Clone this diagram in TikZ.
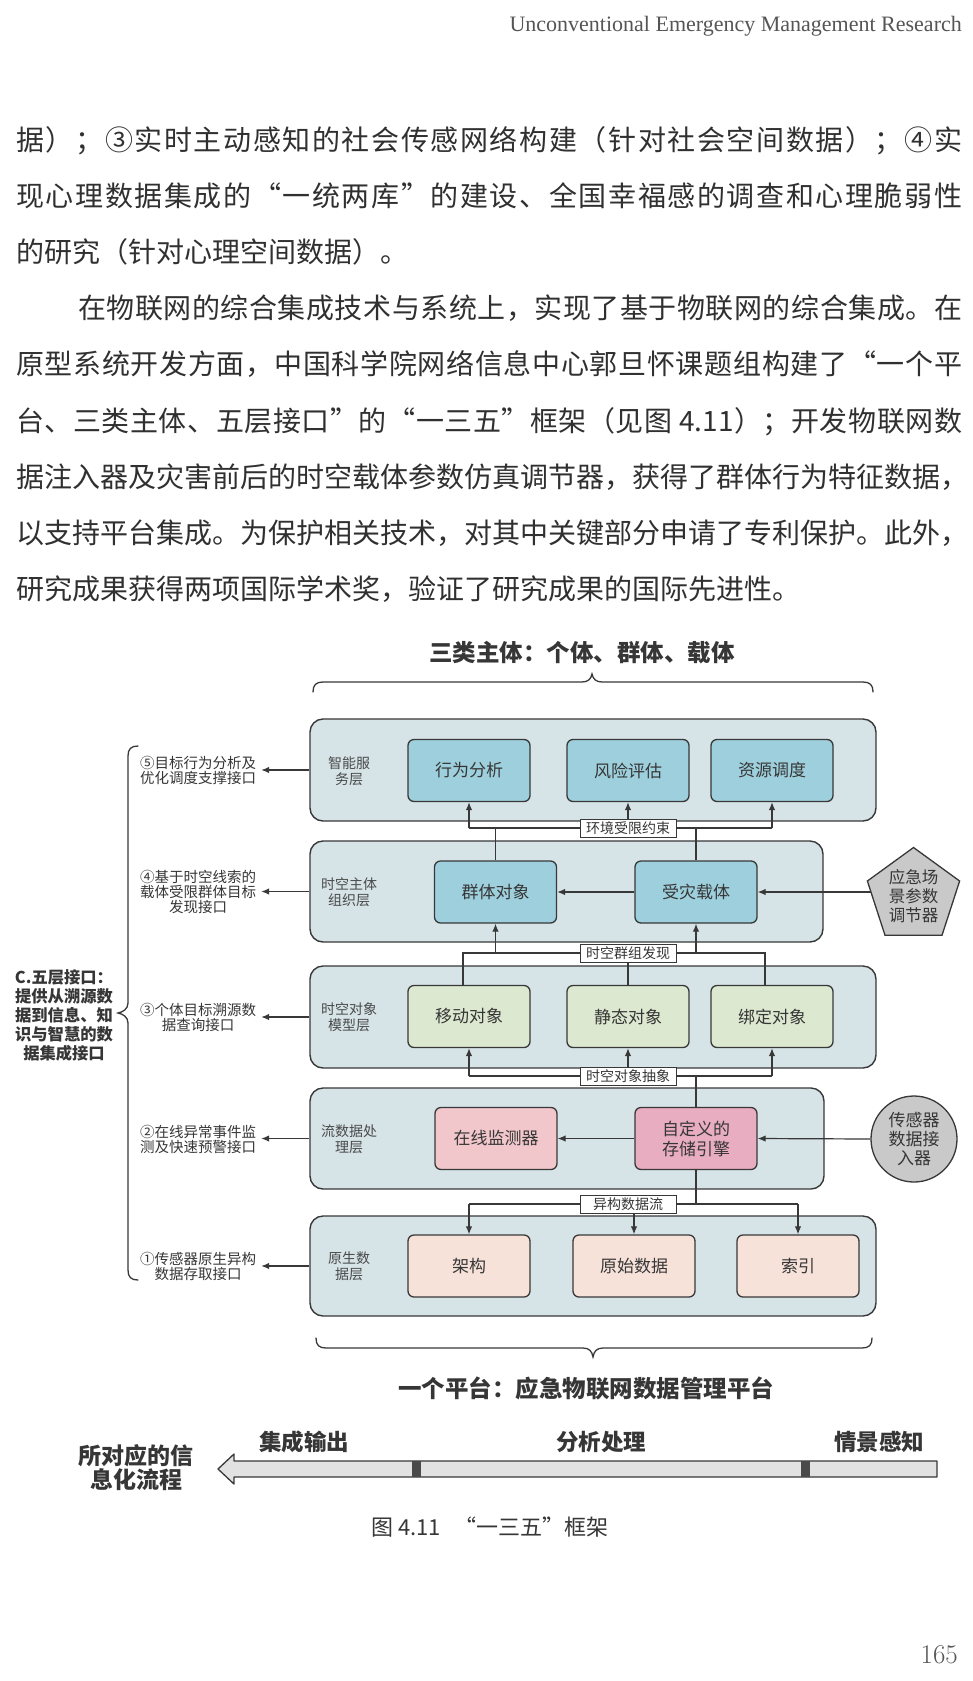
\documentclass[tikz,border=0pt]{standalone}
\usepackage{fontspec}
\newfontfamily\cjk{Noto Sans CJK SC}
\newfontfamily\tnr{Liberation Serif}
\usetikzlibrary{arrows.meta,shapes.geometric}
\pgfdeclarelayer{back}
\pgfdeclarelayer{mid}
\pgfsetlayers{back,mid,main}
\definecolor{layerfill}{HTML}{D6E3E7}
\definecolor{bluebox}{HTML}{9ECFDD}
\definecolor{greenbox}{HTML}{DCE9D0}
\definecolor{pinkA}{HTML}{F1C7CC}
\definecolor{pinkB}{HTML}{E9ADC1}
\definecolor{peach}{HTML}{F7E2DA}
\definecolor{greyshape}{HTML}{C9C9C9}
\definecolor{ln}{HTML}{383838}
\definecolor{txt}{HTML}{363636}
\definecolor{txtb}{HTML}{4A4A4A}
\definecolor{bodytxt}{HTML}{303030}
\definecolor{hdr}{HTML}{555555}
\definecolor{flowfill}{HTML}{E2E2E2}
\definecolor{sepfill}{HTML}{4A4A4A}
\makeatletter
\def\myspread#1{\myspreadaux#1\relax}
\def\myspreadaux#1{\ifx\relax#1\else #1\hskip 0pt plus 1fil\relax\expandafter\myspreadaux\fi}
\makeatother
\newcommand\jline[2]{\hbox to #1{\myspread{#2}\unskip}}
\begin{document}
\begin{tikzpicture}[x=1pt,y=-1pt,
  body/.style={anchor=base west, inner sep=0pt, font=\cjk\fontsize{28}{28}\selectfont, text=bodytxt},
  layerbox/.style={draw=ln, line width=1.4pt, fill=layerfill, rounded corners=13pt, inner sep=0pt},
  box/.style={draw=ln, line width=1.3pt, rounded corners=6pt, minimum width=122pt, minimum height=62pt, inner sep=0pt, font=\cjk\fontsize{17}{20}\selectfont, text=txt, align=center},
  tagbox/.style={draw=ln, line width=1pt, fill=white, minimum width=96pt, minimum height=18pt, inner sep=0pt, font=\cjk\fontsize{14}{14}\selectfont, text=txt},
  lyrlabel/.style={font=\cjk\fontsize{14}{16}\selectfont, text=txtb, align=center, inner sep=0pt},
  iface/.style={font=\cjk\fontsize{14.5}{15}\selectfont, text=txt, align=center, text width=118pt, inner xsep=4pt, inner ysep=1pt},
  arr/.style={draw=ln, line width=1.2pt, -{Latex[length=8pt,width=6.5pt]}},
  lnk/.style={draw=ln, line width=1.2pt},
  brace/.style={draw=ln, line width=1.3pt, line cap=round},
  bigtitle/.style={font=\cjk\fontsize{23.5}{26}\selectfont, text=txt, inner sep=0pt},
  flowlbl/.style={font=\cjk\fontsize{22.5}{24}\selectfont, text=txt, inner sep=0pt, align=center}
]
\useasboundingbox (0,0) rectangle (973,1681);
\begin{pgfonlayer}{back}
\fill[white] (0,0) rectangle (973,1681);
\end{pgfonlayer}

% header
\node[anchor=base east, inner sep=0pt, font=\tnr\fontsize{22}{22}\selectfont, text=hdr] (hd) at (962,31) {Unconventional Emergency Management Research};

% body text
\node[body] (b1) at (16,150.5) {\jline{946pt}{据）；③实时主动感知的社会传感网络构建（针对社会空间数据）；④实}};
\node[body] (b2) at (16,206.5) {\jline{946pt}{现心理数据集成的“一统两库”的建设、全国幸福感的调查和心理脆弱性}};
\node[body] (b3) at (16,262.5) {的研究（针对心理空间数据）。};
\node[body] (b4) at (78,318.5) {\jline{884pt}{在物联网的综合集成技术与系统上，实现了基于物联网的综合集成。在}};
\node[body] (b5) at (16,374.5) {\jline{946pt}{原型系统开发方面，中国科学院网络信息中心郭旦怀课题组构建了“一个平}};
\node[body] (b6) at (16,431) {\jline{946pt}{台、三类主体、五层接口”的“一三五”框架（见图{\ 4.11}）；开发物联网数}};
\node[body] (b7) at (16,487) {\jline{946pt}{据注入器及灾害前后的时空载体参数仿真调节器，获得了群体行为特征数据，}};
\node[body] (b8) at (16,543) {\jline{946pt}{以支持平台集成。为保护相关技术，对其中关键部分申请了专利保护。此外，}};
\node[body] (b9) at (16,599) {研究成果获得两项国际学术奖，验证了研究成果的国际先进性。};

% titles and braces
\node[bigtitle] (top) at (582,653) {\bfseries 三类主体：个体、群体、载体};
\draw[brace] (313,692) .. controls (313,685) and (316,682) .. (323,682) -- (582,682) .. controls (588,682) and (591,679) .. (592,674) .. controls (593,679) and (596,682) .. (602,682) -- (863,682) .. controls (870,682) and (873,685) .. (873,692);
\draw[brace] (316,1338) .. controls (316,1345) and (319,1348) .. (326,1348) -- (583,1348) .. controls (589,1348) and (592,1351) .. (593,1357) .. controls (594,1351) and (597,1348) .. (603,1348) -- (862,1348) .. controls (869,1348) and (872,1345) .. (872,1338);
\node[bigtitle] (bot) at (586,1388) {\bfseries 一个平台：应急物联网数据管理平台};
\draw[brace] (138,746) .. controls (131,746) and (128,749) .. (128,756) -- (128,1003) .. controls (128,1009) and (123,1012) .. (118,1013) .. controls (123,1014) and (128,1017) .. (128,1023) -- (128,1270) .. controls (128,1277) and (131,1280) .. (138,1280);
\node[font=\cjk\fontsize{16.3}{19}\selectfont\bfseries, text=txt, align=center, inner sep=0pt] (five) at (64,1015.5) {C.五层接口：\\提供从溯源数\\据到信息、知\\识与智慧的数\\据集成接口};

% layers
\begin{pgfonlayer}{back}
\node[layerbox, minimum width=566pt, minimum height=102pt] (L5) at (593,770) {};
\node[layerbox, minimum width=513pt, minimum height=101pt] (L4) at (566.5,891.5) {};
\node[layerbox, minimum width=566pt, minimum height=102pt] (L3) at (593,1017) {};
\node[layerbox, minimum width=514pt, minimum height=101pt] (L2) at (567,1138.5) {};
\node[layerbox, minimum width=566pt, minimum height=100pt] (L1) at (593,1266) {};
\end{pgfonlayer}

\node[lyrlabel] (n5) at (349,771) {智能服\\务层};
\node[lyrlabel] (n4) at (349,892) {时空主体\\组织层};
\node[lyrlabel] (n3) at (349,1017) {时空对象\\模型层};
\node[lyrlabel] (n2) at (349,1139) {流数据处\\理层};
\node[lyrlabel] (n1) at (349,1266) {原生数\\据层};

% boxes
\node[box, fill=bluebox] (xw) at (469,770.5) {行为分析};
\node[box, fill=bluebox] (fx) at (628,770.5) {风险评估};
\node[box, fill=bluebox] (zy) at (772,770.5) {资源调度};
\node[box, fill=bluebox] (qt) at (495.5,892) {群体对象};
\node[box, fill=bluebox] (sz) at (696,892) {受灾载体};
\node[box, fill=greenbox] (yd) at (469,1016.5) {移动对象};
\node[box, fill=greenbox] (jt) at (628,1016.5) {静态对象};
\node[box, fill=greenbox] (bd) at (772,1016.5) {绑定对象};
\node[box, fill=pinkA] (zx) at (496,1138.5) {在线监测器};
\node[box, fill=pinkB] (zdy) at (696,1138.5) {自定义的\\存储引擎};
\node[box, fill=peach] (jg) at (469,1266) {架构};
\node[box, fill=peach] (ys) at (634,1266) {原始数据};
\node[box, fill=peach] (sy) at (798,1266) {索引};

\node[regular polygon, regular polygon sides=5, minimum size=97pt, draw=ln, line width=1.3pt, fill=greyshape, inner sep=0pt, font=\cjk\fontsize{16.5}{19}\selectfont, text=txt, align=center] (pent) at (913.5,896) {应急场\\景参数\\调节器};
\node[circle, minimum size=86pt, draw=ln, line width=1.3pt, fill=greyshape, inner sep=0pt, font=\cjk\fontsize{17}{19}\selectfont, text=txt, align=center] (sensor) at (914,1139) {传感器\\数据接\\入器};

% tags
\node[tagbox] (t1) at (628,828) {环境受限约束};
\node[tagbox] (t2) at (628,953) {时空群组发现};
\node[tagbox] (t3) at (628,1076) {时空对象抽象};
\node[tagbox] (t4) at (628,1204) {异构数据流};

% interface labels
\node[iface] (i5) at (198,770.5) {⑤目标行为分析及\\优化调度支撑接口};
\node[iface] (i4) at (198,892) {④基于时空线索的\\载体受限群体目标\\发现接口};
\node[iface] (i3) at (198,1017.5) {③个体目标溯源数\\据查询接口};
\node[iface] (i2) at (198,1139.5) {②在线异常事件监\\测及快速预警接口};
\node[iface] (i1) at (198,1266) {①传感器原生异构\\数据存取接口};

\coordinate (ydn) at ([xshift=-6pt]yd.north);
\coordinate (bdn) at ([xshift=-7pt]bd.north);

\begin{pgfonlayer}{mid}
% interface arrows
\draw[arr] (L5.west) -- (L5.west -| i5.east);
\draw[arr] (L4.west) -- (L4.west -| i4.east);
\draw[arr] (L3.west) -- (L3.west -| i3.east);
\draw[arr] (L2.west) -- (L2.west -| i2.east);
\draw[arr] (L1.west) -- (L1.west -| i1.east);
% band 5/4
\draw[lnk] (xw.south |- t1.center) -- (zy.south |- t1.center);
\draw[arr] (xw.south |- t1.center) -- (xw.south);
\draw[arr] (t1.north) -- (fx.south);
\draw[arr] (zy.south |- t1.center) -- (zy.south);
\draw[lnk] (qt.north) -- (qt.north |- t1.center);
\draw[lnk] (sz.north) -- (sz.north |- t1.center);
% band 4/3
\draw[lnk] (ydn) -- (ydn |- t2.center) -- (bdn |- t2.center) -- (bdn);
\draw[lnk] (jt.north) -- (t2.south);
\draw[arr] (qt.south |- t2.center) -- (qt.south);
\draw[arr] (sz.south |- t2.center) -- (sz.south);
% band 3/2
\draw[lnk] (yd.south |- t3.center) -- (bd.south |- t3.center);
\draw[arr] (yd.south |- t3.center) -- (yd.south);
\draw[arr] (t3.north) -- (jt.south);
\draw[arr] (bd.south |- t3.center) -- (bd.south);
\draw[lnk] (zdy.north) -- (zdy.north |- t3.center);
% band 2/1
\draw[lnk] (zdy.south) -- (zdy.south |- t4.center);
\draw[lnk] (jg.north |- t4.center) -- (sy.north |- t4.center);
\draw[arr] (jg.north |- t4.center) -- (jg.north);
\draw[arr] (ys.north |- t4.south) -- (ys.north);
\draw[arr] (sy.north |- t4.center) -- (sy.north);
% in-layer arrows
\draw[arr] (sz.west) -- (qt.east);
\draw[arr] (pent.west |- sz.east) -- (sz.east);
\draw[arr] (zdy.west) -- (zx.east);
\draw[arr] (sensor.west) -- (zdy.east);
\end{pgfonlayer}

% information flow arrow
\draw[draw=ln, line width=1.3pt, fill=flowfill, line join=round] (937,1461) -- (234,1461) -- (234,1454) -- (218,1469) -- (234,1484) -- (234,1477) -- (937,1477) -- cycle;
\fill[sepfill] (412,1461) rectangle (421,1477);
\fill[sepfill] (801,1461) rectangle (810,1477);
\node[flowlbl] (f1) at (304,1442) {\bfseries 集成输出};
\node[flowlbl] (f2) at (601,1442) {\bfseries 分析处理};
\node[flowlbl] (f3) at (879,1442) {\bfseries 情景感知};
\node[font=\cjk\fontsize{23}{24}\selectfont\bfseries, text=txt, inner sep=0pt, align=center] (flow) at (136,1468) {所对应的信\\息化流程};

% caption and page number
\node[font=\cjk\fontsize{22}{22}\selectfont, text=txt, inner sep=0pt] (cap) at (490,1527) {图 4.11\hspace{14pt}“一三五”框架};
\node[font=\fontsize{27}{27}\selectfont, text=hdr, inner sep=0pt, anchor=base east] (pg) at (958,1663) {165};
\end{tikzpicture}
\end{document}
